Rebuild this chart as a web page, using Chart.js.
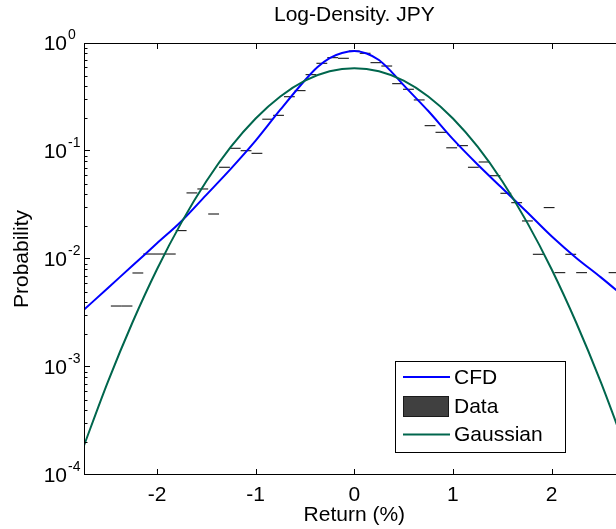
<!DOCTYPE html>
<html><head><meta charset="utf-8">
<script src="https://cdn.jsdelivr.net/npm/chart.js@4/dist/chart.umd.min.js"></script>
<style>
html,body{margin:0;padding:0;background:#fff;overflow:hidden;width:616px;height:529px}
#wrap{width:640px;height:529px;position:relative}
</style>
</head><body><div id="wrap"><canvas id="c" width="640" height="529"></canvas></div>
<script>
// ---- data ----
const binWidth = 0.1097;
const binCenters = [-2.413,-2.304,-2.194,-2.084,-1.975,-1.865,-1.755,-1.646,-1.536,-1.426,-1.316,-1.207,-1.097,-0.987,-0.878,-0.768,-0.658,-0.549,-0.439,-0.329,-0.219,-0.110,0.000,0.110,0.219,0.329,0.439,0.549,0.658,0.768,0.878,0.987,1.097,1.207,1.316,1.426,1.536,1.646,1.755,1.865,1.975,2.084,2.194,2.304,2.413,2.523,2.633];
const binValues = [0.00367,0.00367,0.00742,0.01112,0.01112,0.01112,0.0183,0.0409,0.0445,0.0261,0.0707,0.106,0.1006,0.0952,0.197,0.214,0.318,0.362,0.509,0.649,0.731,0.722,0.843,0.803,0.657,0.612,0.42,0.373,0.297,0.1715,0.149,0.107,0.112,0.0707,0.0791,0.059,0.0406,0.0332,0.0225,0.01106,0.0299,0.00747,0.01106,0.00747,null,null,0.00747];

const cfdX = [-2.75,-2.5,-2.25,-2.0,-1.75,-1.5,-1.25,-1.0,-0.75,-0.5,-0.375,-0.25,-0.125,0,0.125,0.25,0.375,0.5,0.75,1.0,1.25,1.5,1.75,2.0,2.25,2.5,2.75];
const cfdValues = [0.003327,0.00537,0.00865,0.01396,0.02249,0.03926,0.06871,0.1247,0.241,0.4519,0.5957,0.7244,0.8072,0.8433,0.7998,0.695,0.5433,0.4074,0.2344,0.1288,0.075,0.04519,0.02723,0.01622,0.01023,0.006761,0.004365];

const gaussX = [-2.75,-2.5,-2.25,-2.0,-1.75,-1.5,-1.25,-1.0,-0.75,-0.5,-0.25,0,0.25,0.5,0.75,1.0,1.25,1.5,1.75,2.0,2.25,2.5,2.75];
const gaussValues = [0.000177,0.000721,0.00257,0.00804,0.02195,0.0524,0.1096,0.2002,0.320,0.448,0.547,0.585,0.547,0.448,0.320,0.2002,0.1096,0.0524,0.02195,0.00804,0.00257,0.000721,0.000177];

const xTickValues = [-2,-1,0,1,2];
const yDecadeValues = [1,0.1,0.01,0.001,0.0001];
const yExponentLabels = ['0','-1','-2','-3','-4'];
const seriesNames = ['CFD','Data','Gaussian'];
const titleText = 'Log-Density. JPY';
const xTitle = 'Return (%)';
const yTitle = 'Probability';

// ---- build ----
const FONT = '"Liberation Sans", Arial, Helvetica, sans-serif';
const BLUE = '#0000ff', GREEN = '#00664d';

const segPts = [];
binCenters.forEach((c,i)=>{
  const v = binValues[i];
  if (v == null) return;
  segPts.push({x:c-binWidth/2,y:v},{x:c+binWidth/2,y:v},{x:c+binWidth/2,y:null});
});

const framePlugin = {
  id:'frame',
  afterDatasetsDraw(chart){
    const {ctx, chartArea:a, scales:{x, y}} = chart;
    ctx.save();
    ctx.strokeStyle = '#000';
    ctx.lineWidth = 1;
    ctx.beginPath();
    ctx.moveTo(a.left+0.5, a.top+0.5); ctx.lineTo(a.right, a.top+0.5);
    ctx.moveTo(a.left+0.5, a.top); ctx.lineTo(a.left+0.5, a.bottom);
    ctx.moveTo(a.left, a.bottom-0.5); ctx.lineTo(a.right, a.bottom-0.5);
    ctx.moveTo(a.right-0.5, a.top); ctx.lineTo(a.right-0.5, a.bottom);
    x.ticks.forEach(t=>{
      const px = Math.round(x.getPixelForValue(t.value))+0.5;
      ctx.moveTo(px, a.bottom); ctx.lineTo(px, a.bottom-6);
      ctx.moveTo(px, a.top); ctx.lineTo(px, a.top+6);
    });
    yDecadeValues.forEach((d,i)=>{
      const py = Math.round(y.getPixelForValue(d))-0.5+ (i===0?1:0);
      ctx.moveTo(a.left, py); ctx.lineTo(a.left+6, py);
      if (i < yDecadeValues.length-1){
        for (let m=2;m<=9;m++){
          const mv = yDecadeValues[i+1]*m;
          const my = Math.round(y.getPixelForValue(mv))+0.5;
          ctx.moveTo(a.left, my); ctx.lineTo(a.left+3.5, my);
        }
      }
    });
    ctx.stroke();
    ctx.fillStyle = '#000';
    yDecadeValues.forEach((d,i)=>{
      const py = y.getPixelForValue(d);
      ctx.font = '21px ' + FONT;
      ctx.textAlign = 'right'; ctx.textBaseline = 'middle';
      ctx.fillText('10', 67, py+1);
      ctx.font = '14px ' + FONT;
      ctx.textAlign = 'left'; ctx.textBaseline = 'alphabetic';
      ctx.fillText(yExponentLabels[i], 68, py-4);
    });
    ctx.restore();
  },
  afterDraw(chart){
    const {ctx} = chart;
    const ds = chart.data.datasets;
    ctx.save();
    const bx = 395.5, by = 361.5, bw = 170, bh = 91;
    ctx.fillStyle = '#fff';
    ctx.fillRect(bx, by, bw, bh);
    ctx.strokeStyle = '#000'; ctx.lineWidth = 1;
    ctx.strokeRect(bx, by, bw, bh);
    const rows = [377, 406.5, 434.5];
    const order = [1, 0, 2];
    order.forEach((di, r)=>{
      const d = ds[di];
      const yy = rows[r];
      if (d.label === 'Data'){
        ctx.fillStyle = '#404040';
        ctx.fillRect(403, yy-10.5, 46, 21);
        ctx.strokeStyle = '#1a1a1a';
        ctx.strokeRect(403.5, yy-10, 45, 20);
      } else {
        ctx.strokeStyle = d.borderColor; ctx.lineWidth = 2;
        ctx.beginPath(); ctx.moveTo(403, yy); ctx.lineTo(450, yy); ctx.stroke();
        ctx.lineWidth = 1;
      }
      ctx.fillStyle = '#000';
      ctx.font = '21px ' + FONT;
      ctx.textAlign = 'left'; ctx.textBaseline = 'middle';
      ctx.fillText(d.label, 454, yy+1);
    });
    ctx.restore();
  }
};

new Chart(document.getElementById('c'), {
  type: 'line',
  data: {
    datasets: [
      {label: seriesNames[1], data: segPts, borderColor:'#000', borderWidth:1, pointRadius:0, spanGaps:false, tension:0, order:3},
      {label: seriesNames[0], data: cfdX.map((v,i)=>({x:v,y:cfdValues[i]})), borderColor:BLUE, borderWidth:2, pointRadius:0, cubicInterpolationMode:'monotone', order:2},
      {label: seriesNames[2], data: gaussX.map((v,i)=>({x:v,y:gaussValues[i]})), borderColor:GREEN, borderWidth:2, pointRadius:0, cubicInterpolationMode:'monotone', order:1}
    ]
  },
  options: {
    responsive: false,
    animation: false,
    devicePixelRatio: 1,
    layout: {padding: {left:0, right:15.4, top:0, bottom:0}},
    plugins: {
      legend: {display:false},
      tooltip: {enabled:false},
      title: {display:true, fullSize:false, text: titleText, color:'#000', font:{family:FONT, size:21, weight:'normal'}, padding:{top:3, bottom:14.8}}
    },
    scales: {
      x: {
        type:'linear', min:-2.74, max:2.74,
        grid:{display:false, drawTicks:false},
        border:{display:false},
        ticks:{includeBounds:false, color:'#000', font:{family:FONT, size:21}, padding:8, maxRotation:0},
        afterBuildTicks: s => { s.ticks = xTickValues.map(v=>({value:v})); },
        afterFit: s => { s.height = 54; },
        title:{display:true, text:xTitle, color:'#000', font:{family:FONT, size:21}, padding:{top:0, bottom:1.4}}
      },
      y: {
        type:'logarithmic', min:0.0001, max:1,
        grid:{display:false, drawTicks:false},
        border:{display:false},
        ticks:{display:false},
        afterFit: s => { s.width = 84; },
        title:{display:true, text:yTitle, color:'#000', font:{family:FONT, size:21}, padding:{top:10, bottom:0}}
      }
    }
  },
  plugins: [framePlugin]
});
</script>
</body></html>
